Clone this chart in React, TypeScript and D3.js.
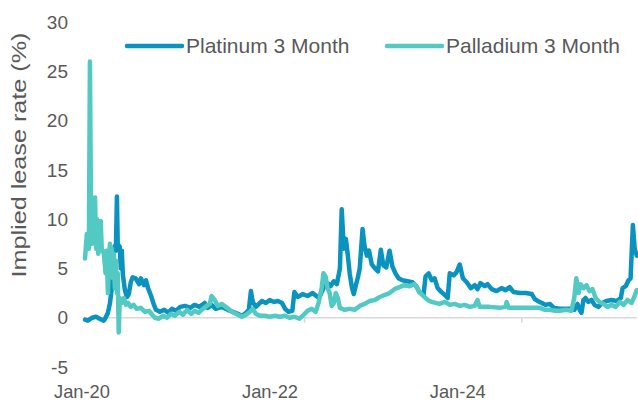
import React from "react";
import * as d3 from "d3";

const W = 638;
const H = 403;

const yTicks = [-5, 0, 5, 10, 15, 20, 25, 30];
const xLabels = [
  { date: "2020-01-01", label: "Jan-20" },
  { date: "2022-01-01", label: "Jan-22" },
  { date: "2024-01-01", label: "Jan-24" },
];
// minor tick marks that sit on the zero line in the original
const axisTickDates = ["2022-05-08", "2024-08-29"];

const seriesNames = ["Platinum 3 Month", "Palladium 3 Month"];
const seriesColors = ["#0A93BF", "#52C9C3"];

const platinum: [string, number][] = [
  ["2020-01-05", -0.2], ["2020-01-16", -0.3], ["2020-02-02", 0.0], ["2020-02-17", 0.1],
  ["2020-03-02", -0.1], ["2020-03-18", -0.3], ["2020-03-25", 0.0], ["2020-04-03", 0.5],
  ["2020-04-11", 1.5], ["2020-04-18", 3.0], ["2020-04-22", 6.5], ["2020-04-30", 7.3],
  ["2020-05-04", 6.8], ["2020-05-08", 12.3], ["2020-05-11", 7.5], ["2020-05-19", 7.2],
  ["2020-05-23", 5.0], ["2020-05-27", 6.8], ["2020-05-31", 4.4], ["2020-06-08", 2.8],
  ["2020-06-16", 2.1], ["2020-06-23", 2.4], ["2020-07-01", 3.6], ["2020-07-08", 4.1],
  ["2020-07-20", 4.0], ["2020-08-02", 3.4], ["2020-08-09", 4.0], ["2020-08-21", 3.3],
  ["2020-08-29", 3.8], ["2020-09-06", 3.0], ["2020-09-18", 2.2], ["2020-09-29", 1.3],
  ["2020-10-07", 0.8], ["2020-10-22", 0.6], ["2020-11-08", 0.8], ["2020-11-23", 0.5],
  ["2020-12-08", 0.9], ["2020-12-23", 0.7], ["2021-01-09", 1.1], ["2021-01-28", 1.2],
  ["2021-02-17", 1.0], ["2021-03-06", 1.3], ["2021-03-25", 1.1], ["2021-04-14", 1.5],
  ["2021-04-26", 1.0], ["2021-05-11", 1.3], ["2021-05-27", 0.9], ["2021-06-19", 1.1],
  ["2021-07-13", 0.8], ["2021-08-02", 0.6], ["2021-08-21", 0.4], ["2021-09-06", 0.2],
  ["2021-09-22", 0.5], ["2021-10-03", 0.8], ["2021-10-11", 2.7], ["2021-10-18", 1.6],
  ["2021-10-30", 1.1], ["2021-11-11", 1.4], ["2021-11-23", 1.7], ["2021-12-08", 1.5],
  ["2021-12-23", 1.8], ["2022-01-09", 1.6], ["2022-01-24", 1.7], ["2022-02-09", 1.5],
  ["2022-02-21", 0.9], ["2022-03-06", 0.6], ["2022-03-21", 0.7], ["2022-03-29", 2.6],
  ["2022-04-11", 2.1], ["2022-04-30", 2.4], ["2022-05-19", 2.2], ["2022-06-08", 2.5],
  ["2022-06-27", 2.1], ["2022-07-08", 2.3], ["2022-07-20", 3.0], ["2022-08-05", 3.5],
  ["2022-08-17", 3.2], ["2022-08-29", 3.7], ["2022-09-10", 3.4], ["2022-09-22", 5.0],
  ["2022-09-29", 11.0], ["2022-10-07", 7.0], ["2022-10-15", 8.0], ["2022-10-22", 6.5],
  ["2022-10-30", 4.5], ["2022-11-08", 3.0], ["2022-11-15", 2.4], ["2022-11-23", 3.3],
  ["2022-11-30", 4.0], ["2022-12-08", 5.0], ["2022-12-19", 9.0], ["2022-12-27", 7.2],
  ["2023-01-05", 6.3], ["2023-01-13", 6.8], ["2023-01-24", 5.4], ["2023-02-05", 5.0],
  ["2023-02-17", 4.7], ["2023-02-28", 6.9], ["2023-03-10", 5.3], ["2023-03-21", 5.1],
  ["2023-04-03", 6.8], ["2023-04-14", 5.2], ["2023-04-26", 4.5], ["2023-05-08", 4.0],
  ["2023-05-23", 3.8], ["2023-06-11", 3.7], ["2023-07-01", 3.6], ["2023-07-16", 3.2],
  ["2023-07-28", 2.6], ["2023-08-13", 2.3], ["2023-08-21", 4.2], ["2023-09-02", 4.5],
  ["2023-09-14", 3.8], ["2023-09-25", 4.0], ["2023-10-07", 3.0], ["2023-10-22", 2.6],
  ["2023-11-04", 2.3], ["2023-11-15", 2.0], ["2023-11-23", 4.5], ["2023-12-08", 4.3],
  ["2023-12-19", 4.6], ["2024-01-01", 5.4], ["2024-01-13", 4.0], ["2024-01-28", 3.6],
  ["2024-02-13", 3.0], ["2024-02-28", 3.3], ["2024-03-10", 2.9], ["2024-03-21", 3.5],
  ["2024-04-07", 3.2], ["2024-04-18", 3.4], ["2024-05-04", 2.9], ["2024-05-23", 2.7],
  ["2024-06-11", 3.0], ["2024-06-27", 2.8], ["2024-07-13", 3.1], ["2024-07-28", 2.6],
  ["2024-08-21", 2.5], ["2024-09-14", 2.5], ["2024-10-07", 2.4], ["2024-10-18", 1.9],
  ["2024-10-30", 1.7], ["2024-11-15", 1.5], ["2024-11-30", 1.3], ["2024-12-16", 1.4],
  ["2025-01-01", 1.0], ["2025-01-24", 0.9], ["2025-02-17", 0.9], ["2025-03-10", 0.9],
  ["2025-03-21", 0.8], ["2025-04-03", 1.4], ["2025-04-11", 0.8], ["2025-04-18", 0.5],
  ["2025-04-26", 1.8], ["2025-05-04", 2.0], ["2025-05-15", 1.6], ["2025-05-27", 1.8],
  ["2025-06-08", 1.3], ["2025-06-23", 1.1], ["2025-07-08", 1.5], ["2025-07-24", 1.7],
  ["2025-08-13", 1.8], ["2025-09-02", 1.7], ["2025-09-18", 2.0], ["2025-09-25", 3.0],
  ["2025-10-07", 3.2], ["2025-10-18", 3.8], ["2025-10-26", 4.0], ["2025-11-04", 9.4],
  ["2025-11-11", 7.0], ["2025-11-19", 6.3],
];

const palladium: [string, number][] = [
  ["2020-01-05", 6.0], ["2020-01-12", 8.5], ["2020-01-20", 7.0], ["2020-01-24", 26.0],
  ["2020-01-28", 12.0], ["2020-02-02", 7.5], ["2020-02-06", 11.0], ["2020-02-10", 9.0],
  ["2020-02-13", 12.2], ["2020-02-17", 7.0], ["2020-02-21", 10.0], ["2020-02-25", 6.5],
  ["2020-03-02", 7.0], ["2020-03-06", 9.8], ["2020-03-10", 7.0], ["2020-03-18", 6.5],
  ["2020-03-25", 4.5], ["2020-03-29", 6.8], ["2020-04-03", 2.5], ["2020-04-07", 6.0],
  ["2020-04-11", 7.5], ["2020-04-14", 5.0], ["2020-04-18", 7.0], ["2020-04-22", 4.0],
  ["2020-04-26", 6.5], ["2020-04-30", 3.0], ["2020-05-04", 5.8], ["2020-05-08", 2.5],
  ["2020-05-11", 4.5], ["2020-05-15", -1.5], ["2020-05-19", 2.0], ["2020-05-27", 1.5],
  ["2020-06-04", 2.0], ["2020-06-12", 1.3], ["2020-06-20", 1.5], ["2020-07-01", 1.1],
  ["2020-07-12", 1.3], ["2020-07-24", 0.9], ["2020-08-09", 1.0], ["2020-08-25", 0.6],
  ["2020-09-10", 0.7], ["2020-09-22", 0.3], ["2020-10-03", 0.0], ["2020-10-18", -0.1],
  ["2020-11-04", 0.2], ["2020-11-19", 0.0], ["2020-12-04", 0.4], ["2020-12-19", 0.2],
  ["2021-01-05", 0.6], ["2021-01-20", 0.3], ["2021-02-05", 0.8], ["2021-02-21", 0.4],
  ["2021-03-06", 0.7], ["2021-03-21", 0.5], ["2021-04-07", 0.9], ["2021-04-22", 1.2],
  ["2021-05-04", 1.4], ["2021-05-11", 2.2], ["2021-05-23", 1.8], ["2021-06-04", 1.2],
  ["2021-06-19", 1.4], ["2021-07-05", 1.1], ["2021-07-20", 0.8], ["2021-08-05", 0.5],
  ["2021-08-21", 0.3], ["2021-09-06", 0.1], ["2021-09-22", 0.3], ["2021-10-07", 0.6],
  ["2021-10-18", 0.9], ["2021-10-30", 0.4], ["2021-11-15", 0.2], ["2021-12-04", 0.2],
  ["2021-12-23", 0.1], ["2022-01-13", 0.2], ["2022-02-01", 0.1], ["2022-02-21", 0.2],
  ["2022-03-10", 0.0], ["2022-03-29", 0.1], ["2022-04-18", -0.1], ["2022-05-04", 0.3],
  ["2022-05-19", 0.7], ["2022-06-04", 0.9], ["2022-06-20", 0.6], ["2022-07-01", 1.5],
  ["2022-07-13", 3.0], ["2022-07-20", 4.5], ["2022-07-28", 4.2], ["2022-08-05", 3.0],
  ["2022-08-13", 2.5], ["2022-08-21", 1.2], ["2022-08-29", 1.5], ["2022-09-06", 2.5],
  ["2022-09-14", 2.0], ["2022-09-22", 1.0], ["2022-10-11", 0.8], ["2022-10-30", 0.9],
  ["2022-11-19", 0.8], ["2022-12-08", 1.2], ["2022-12-27", 1.4], ["2023-01-16", 1.7],
  ["2023-02-05", 1.8], ["2023-02-24", 2.1], ["2023-03-14", 2.3], ["2023-04-03", 2.5],
  ["2023-04-22", 2.9], ["2023-05-12", 3.1], ["2023-05-31", 3.3], ["2023-06-20", 3.2],
  ["2023-07-09", 3.4], ["2023-07-20", 3.0], ["2023-08-01", 2.5], ["2023-08-13", 2.2],
  ["2023-08-29", 1.8], ["2023-09-14", 1.6], ["2023-09-29", 1.5], ["2023-10-14", 1.4],
  ["2023-11-04", 1.6], ["2023-11-23", 1.3], ["2023-12-12", 1.4], ["2024-01-01", 1.2],
  ["2024-01-20", 1.3], ["2024-02-09", 1.1], ["2024-02-28", 1.2], ["2024-03-10", 1.8],
  ["2024-03-18", 1.1], ["2024-04-26", 1.1], ["2024-06-04", 1.0], ["2024-06-27", 1.1],
  ["2024-07-01", 1.6], ["2024-07-09", 1.0], ["2024-08-21", 1.0], ["2024-09-29", 1.0],
  ["2024-11-08", 1.0], ["2024-11-27", 0.8], ["2024-12-16", 0.8], ["2025-01-05", 0.7],
  ["2025-01-24", 0.7], ["2025-02-17", 0.8], ["2025-03-10", 0.7], ["2025-03-21", 2.0],
  ["2025-03-29", 4.0], ["2025-04-07", 2.5], ["2025-04-14", 3.4], ["2025-04-26", 3.0],
  ["2025-05-08", 3.3], ["2025-05-19", 2.7], ["2025-05-31", 2.9], ["2025-06-12", 2.0],
  ["2025-06-27", 1.6], ["2025-07-13", 1.4], ["2025-07-28", 1.1], ["2025-08-13", 1.3],
  ["2025-08-29", 1.1], ["2025-09-14", 1.6], ["2025-09-29", 1.3], ["2025-10-14", 1.8],
  ["2025-10-30", 1.5], ["2025-11-11", 2.2], ["2025-11-19", 2.8],
];

const parse = d3.timeParse("%Y-%m-%d");

export default function App() {
  const x = d3
    .scaleTime()
    .domain([parse("2020-01-01") as Date, parse("2025-11-20") as Date])
    .range([84, 637]);
  const y = d3.scaleLinear().domain([-5, 30]).range([367, 22]);

  const line = d3
    .line<[string, number]>()
    .x((d) => x(parse(d[0]) as Date))
    .y((d) => y(d[1]));

  const textColor = "#595959";
  const font = "'Liberation Sans', Arial, sans-serif";
  const allSeries = [platinum, palladium];

  return (
    <svg
      width={W}
      height={H}
      style={{ position: "absolute", left: 0, top: 0, background: "#fff" }}
      fontFamily={font}
    >
      {/* y axis title */}
      <text
        transform={`translate(26,155) rotate(-90)`}
        textAnchor="middle"
        fontSize={20}
        fill={textColor}
        textLength={245}
        lengthAdjust="spacingAndGlyphs"
      >
        Implied lease rate (%)
      </text>

      {yTicks.map((t) => (
        <text
          key={t}
          x={68}
          y={y(t)}
          dy="0.35em"
          textAnchor="end"
          fontSize={19}
          fill={textColor}
        >
          {t}
        </text>
      ))}

      {/* zero line */}
      <line x1={84} x2={637} y1={y(0)} y2={y(0)} stroke="#d9d9d9" strokeWidth={1.5} />
      {axisTickDates.map((d) => (
        <line
          key={d}
          x1={x(parse(d) as Date)}
          x2={x(parse(d) as Date)}
          y1={y(0)}
          y2={y(0) + 5}
          stroke="#d9d9d9"
          strokeWidth={1.5}
        />
      ))}

      {xLabels.map((l) => (
        <text
          key={l.label}
          x={x(parse(l.date) as Date) - 2}
          y={398}
          textAnchor="middle"
          fontSize={19}
          fill={textColor}
          textLength={56}
          lengthAdjust="spacingAndGlyphs"
        >
          {l.label}
        </text>
      ))}

      {allSeries.map((s, i) => (
        <path
          key={seriesNames[i]}
          d={line(s) || ""}
          fill="none"
          stroke={seriesColors[i]}
          strokeWidth={4.5}
          strokeLinejoin="round"
          strokeLinecap="round"
        />
      ))}

      {/* legend */}
      {seriesNames.map((name, i) => {
        const lx = i === 0 ? 127 : 387;
        return (
          <g key={name}>
            <line
              x1={lx}
              x2={lx + 55}
              y1={46}
              y2={46}
              stroke={seriesColors[i]}
              strokeWidth={4.5}
              strokeLinecap="round"
            />
            <text x={lx + 59} y={46} dy="0.35em" fontSize={21} fill={textColor}>
              {name}
            </text>
          </g>
        );
      })}
    </svg>
  );
}
